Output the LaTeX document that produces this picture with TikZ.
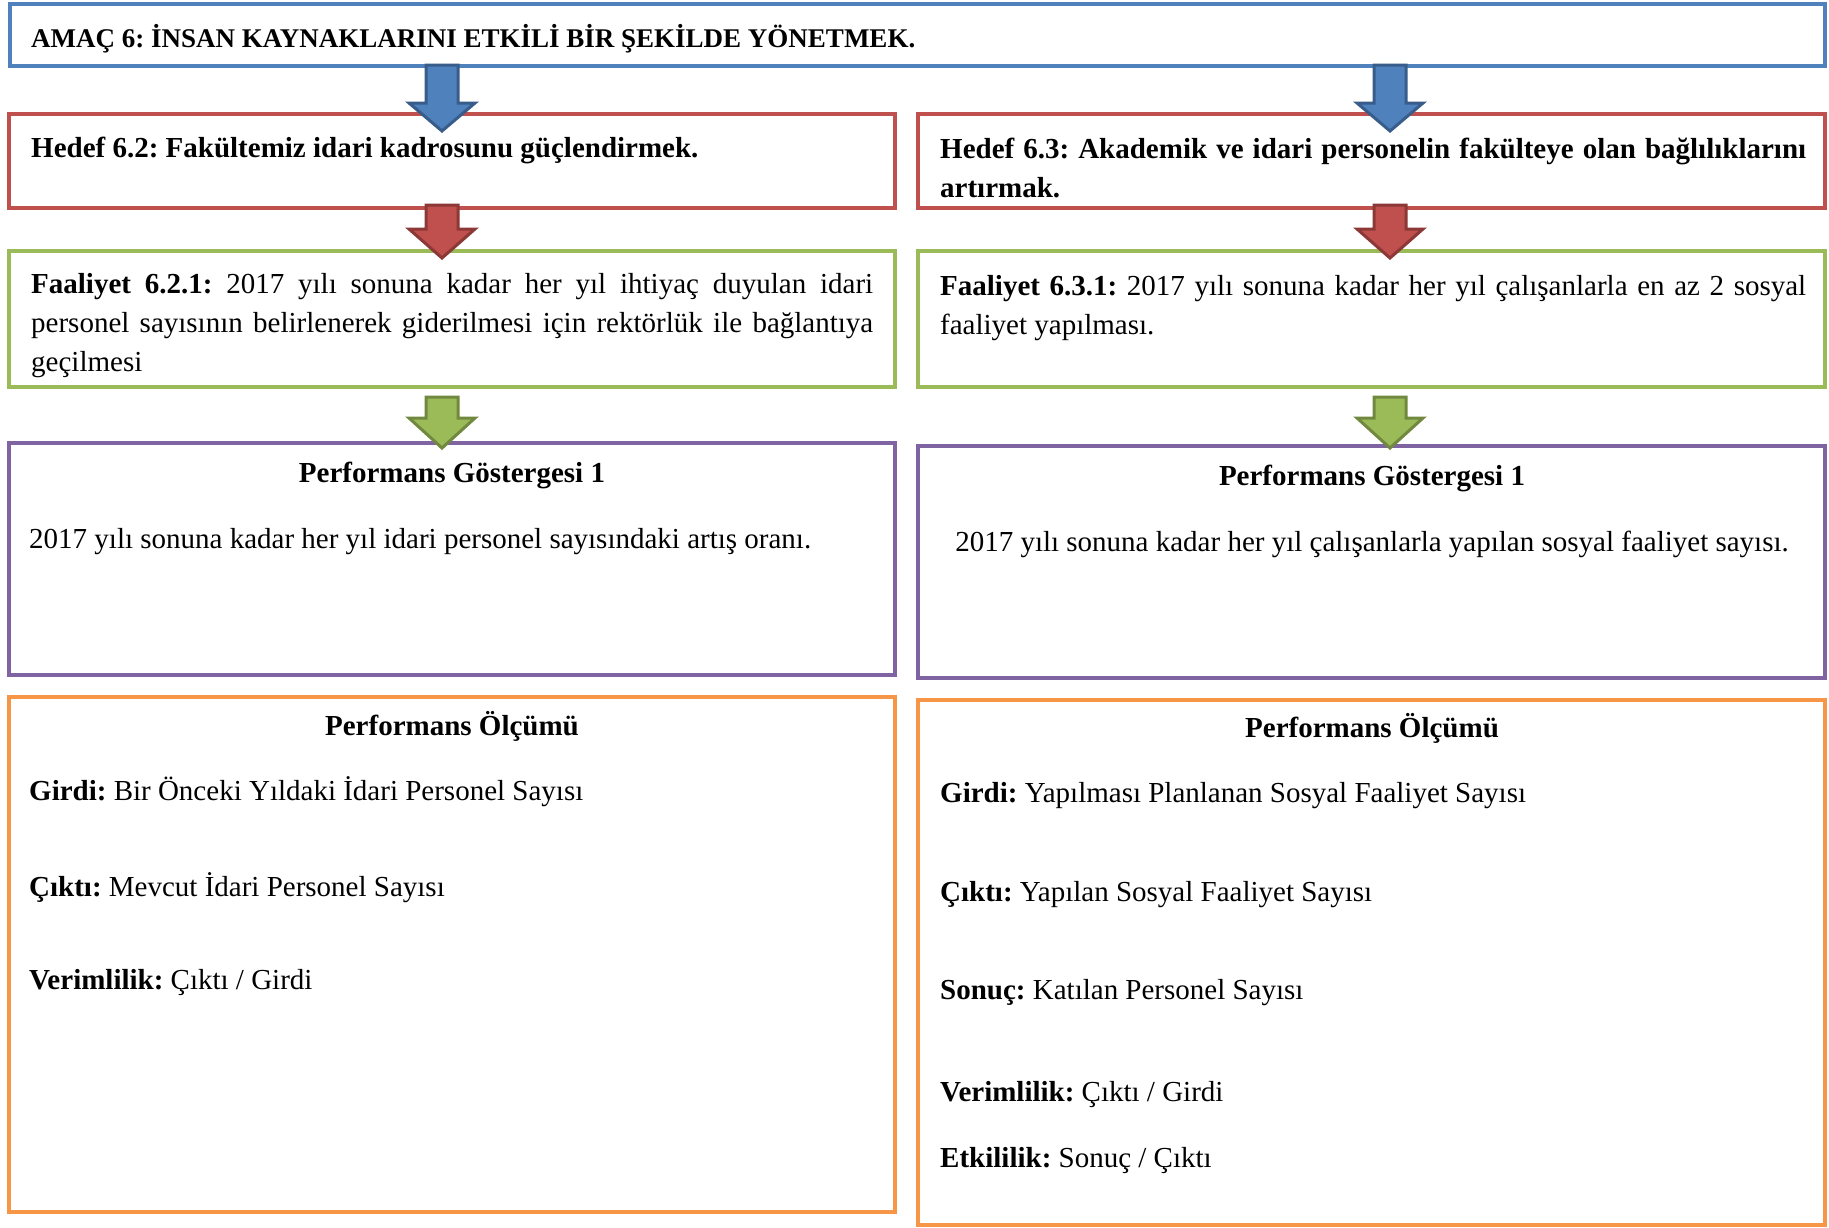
\documentclass[tikz,border=0pt]{standalone}
\usepackage{fontspec}
\setmainfont{Liberation Serif}
\usetikzlibrary{calc}
\frenchspacing

\definecolor{goalblue}{HTML}{4F81BD}
\definecolor{goalblueD}{HTML}{385D8A}
\definecolor{aimred}{HTML}{C0504D}
\definecolor{aimredD}{HTML}{8C3836}
\definecolor{actgreen}{HTML}{9BBB59}
\definecolor{actgreenD}{HTML}{71893F}
\definecolor{indpurple}{HTML}{8064A2}
\definecolor{measorange}{HTML}{F79646}

\tikzset{
  frame/.style={draw=#1, line width=4.5pt, fill=white},
  txt/.style={inner sep=0pt, anchor=base west, font=\fontsize{29}{39}\selectfont},
  ctxt/.style={inner sep=0pt, anchor=base, font=\fontsize{29}{39}\selectfont},
  pics/blockdown/.style 2 args={
    code={
      \path[pic actions, line width=3pt, line join=miter]
        (-16,0) -- (16,0) -- (16,#1) -- (33,#1) -- (0,#1+#2)
        -- (-33,#1) -- (-16,#1) -- cycle;
    }
  }
}

\newcommand{\parb}[2]{\parbox[t]{#1pt}{\fontsize{29}{39}\selectfont\hyphenpenalty=10000\relax #2}}

\begin{document}
\begin{tikzpicture}[x=1pt, y=-1pt]
\useasboundingbox (0,0) rectangle (1829,1227);

% frames
\path[frame=goalblue]   (10,4)    rectangle (1825,66);
\path[frame=aimred]     (9,114)   rectangle (895,208);
\path[frame=aimred]     (918,114) rectangle (1825,208);
\path[frame=actgreen]   (9,251)   rectangle (895,387);
\path[frame=actgreen]   (918,251) rectangle (1825,387);
\path[frame=indpurple]  (9,443)   rectangle (895,675);
\path[frame=indpurple]  (918,446) rectangle (1825,678);
\path[frame=measorange] (9,697)   rectangle (895,1212);
\path[frame=measorange] (918,700) rectangle (1825,1225);

% goal
\node[txt, font=\fontsize{27}{36}\selectfont] (goal) at (31,47) {\bfseries AMAÇ 6: İNSAN KAYNAKLARINI ETKİLİ BİR ŞEKİLDE YÖNETMEK.};

% targets
\node[txt] (hedefA) at (31,157) {\bfseries Hedef 6.2: Fakültemiz idari kadrosunu güçlendirmek.};
\node[txt] (hedefB) at (940,158) {\parb{866}{\bfseries Hedef 6.3: Akademik ve idari personelin fakülteye olan bağlılıklarını\linebreak artırmak.}};

% activities
\node[txt] (actA) at (31,293) {\parb{842}{\textbf{Faaliyet 6.2.1:} 2017 yılı sonuna kadar her yıl ihtiyaç duyulan idari\linebreak personel sayısının belirlenerek giderilmesi için rektörlük ile bağlantıya\linebreak geçilmesi}};
\node[txt] (actB) at (940,295) {\parb{866}{\textbf{Faaliyet 6.3.1:} 2017 yılı sonuna kadar her yıl çalışanlarla en az 2 sosyal\linebreak faaliyet yapılması.}};

% indicators
\node[ctxt] (indA) at (452,482) {\bfseries Performans Göstergesi 1};
\node[txt]  (indAt) at (29,548) {2017 yılı sonuna kadar her yıl idari personel sayısındaki artış oranı.};
\node[ctxt] (indB) at (1372,485) {\bfseries Performans Göstergesi 1};
\node[ctxt] (indBt) at (1372,551) {2017 yılı sonuna kadar her yıl çalışanlarla yapılan sosyal faaliyet sayısı.};

% measurement, left
\node[ctxt] (measA) at (452,735) {\bfseries Performans Ölçümü};
\node[txt] (mA1) at (29,800) {\textbf{Girdi:} Bir Önceki Yıldaki İdari Personel Sayısı};
\node[txt] (mA2) at (29,896) {\textbf{Çıktı:} Mevcut İdari Personel Sayısı};
\node[txt] (mA3) at (29,989) {\textbf{Verimlilik:} Çıktı / Girdi};

% measurement, right
\node[ctxt] (measB) at (1372,737) {\bfseries Performans Ölçümü};
\node[txt] (mB1) at (940,802)  {\textbf{Girdi:} Yapılması Planlanan Sosyal Faaliyet Sayısı};
\node[txt] (mB2) at (940,901)  {\textbf{Çıktı:} Yapılan Sosyal Faaliyet Sayısı};
\node[txt] (mB3) at (940,999)  {\textbf{Sonuç:} Katılan Personel Sayısı};
\node[txt] (mB4) at (940,1101) {\textbf{Verimlilik:} Çıktı / Girdi};
\node[txt] (mB5) at (940,1167) {\textbf{Etkililik:} Sonuç / Çıktı};

% block arrows between levels
\pic[fill=goalblue, draw=goalblueD]  at (442,65)  {blockdown={38}{28}};
\pic[fill=goalblue, draw=goalblueD]  at (1390,65) {blockdown={38}{28}};
\pic[fill=aimred, draw=aimredD]      at (442,205)  {blockdown={24}{29}};
\pic[fill=aimred, draw=aimredD]      at (1390,205) {blockdown={24}{29}};
\pic[fill=actgreen, draw=actgreenD]  at (442,397)  {blockdown={21}{30}};
\pic[fill=actgreen, draw=actgreenD]  at (1390,397) {blockdown={21}{30}};
\end{tikzpicture}
\end{document}
